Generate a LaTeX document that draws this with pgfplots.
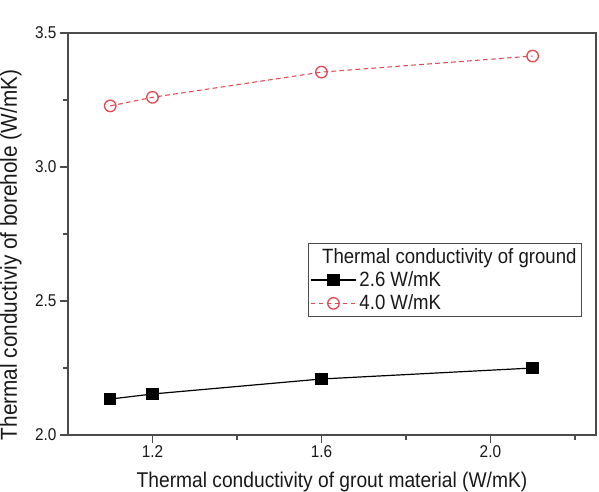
\documentclass[border=0pt]{standalone}
\usepackage{fontspec}
\setmainfont[FakeStretch=0.9]{Liberation Sans}
\usepackage{pgfplots}
\pgfplotsset{compat=1.18}
\definecolor{axgray}{RGB}{75,75,75}
\definecolor{txt}{RGB}{25,25,25}
\definecolor{myred}{RGB}{228,72,82}
\begin{document}
\begin{tikzpicture}
\begin{axis}[
  scale only axis, width=396pt, height=301.5pt,
  xmin=1.0, xmax=2.25, ymin=2.0, ymax=3.5,
  xtick={1.2,1.6,2.0}, minor xtick={1.4,1.8,2.2},
  ytick={2.0,2.5,3.0,3.5}, minor ytick={2.25,2.75,3.25},
  xticklabels={1.2,1.6,2.0}, yticklabels={2.0,2.5,3.0,3.5},
  /pgf/number format/assume math mode=true,
  tick align=outside, tick pos=left,
  major tick length=6pt, minor tick length=3.5pt,
  axis line style={axgray, line width=1.1pt},
  every tick/.style={axgray, line width=1pt},
  tick label style={font=\fontsize{12.8}{14}\selectfont, text=txt},
  xticklabel style={anchor=base, yshift=-10.5pt},
  yticklabel style={anchor=east, inner sep=0pt, xshift=-2.5pt},
  xlabel={Thermal conductivity of grout material (W/mK)},
  ylabel={Thermal conductiviy of borehole (W/mK)},
  label style={font=\fontsize{16}{19}\selectfont, text=txt},
  xlabel style={at={(axis description cs:0.5,-0.1294)}, anchor=base},
  ylabel style={at={(axis description cs:-0.0966,0.448)}, anchor=base, font=\fontsize{17.3}{19}\selectfont},
  legend cell align=left,
  legend style={at={(0.973,0.478)}, anchor=north east, draw=axgray, line width=0.9pt,
    font=\fontsize{15.5}{18}\selectfont, text=txt, inner sep=1.5pt, row sep=0.8pt},
  legend image code/.code={\draw[mark repeat=2,mark phase=2] plot coordinates {(0cm,0cm)(0.6cm,0cm)(1.2cm,0cm)};},
]
\addlegendimage{empty legend}
\addlegendentry{\hspace*{-28pt}Thermal conductivity of ground}
\addplot[black, line width=0.9pt, mark=square*, mark size=4.2pt, mark options={solid, fill=black}]
  coordinates {(1.1,2.134)(1.2,2.153)(1.6,2.209)(2.1,2.250)};
\addlegendentry{2.6 W/mK}
\addplot[myred, line width=0.8pt, dash pattern=on 3.5pt off 2.5pt, mark=o, mark size=4.3pt, mark options={solid, fill=white, line width=1pt}]
  coordinates {(1.1,3.228)(1.2,3.260)(1.6,3.354)(2.1,3.414)};
\addlegendentry{4.0 W/mK}
\end{axis}
\pgfresetboundingbox
\useasboundingbox ([shift={(-51pt,-42.75pt)}]current axis.south west) rectangle ([shift={(2.25pt,24.75pt)}]current axis.north east);
\end{tikzpicture}
\end{document}
